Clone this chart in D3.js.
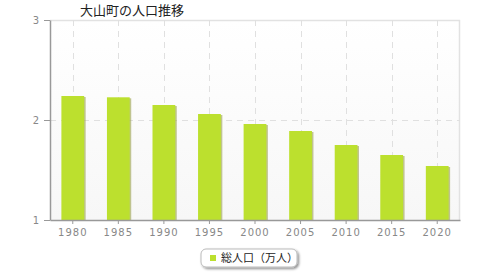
<!DOCTYPE html>
<html>
<head>
<meta charset="utf-8">
<script src="https://cdn.jsdelivr.net/npm/d3@7"></script>
<style>
  body { margin: 0; background: #fff; }
  svg { display: block; font-family: 'Noto Sans CJK JP', 'DejaVu Sans', sans-serif; }
</style>
</head>
<body>
<div id="chart"></div>
<script>
'use strict'

// Data
const years = ['1980', '1985', '1990', '1995', '2000', '2005', '2010', '2015', '2020']
const population = [2.24, 2.227, 2.15, 2.06, 1.96, 1.89, 1.75, 1.65, 1.54]
const yTicks = [1, 2, 3]
const title = '大山町の人口推移'
const seriesName = '総人口（万人）'

function draw() {
  let dimensions = {
    width: 480,
    height: 280,
    margin: { top: 20, right: 20, bottom: 60, left: 50 },
  }
  dimensions.containerWidth = dimensions.width - dimensions.margin.left - dimensions.margin.right
  dimensions.containerHeight = dimensions.height - dimensions.margin.top - dimensions.margin.bottom

  const svg = d3.select('#chart')
    .append('svg')
    .attr('width', dimensions.width)
    .attr('height', dimensions.height)

  const defs = svg.append('defs')
  const bg = defs.append('linearGradient').attr('id', 'bg').attr('x1', 0).attr('x2', 0).attr('y1', 0).attr('y2', 1)
  bg.append('stop').attr('offset', '0%').attr('stop-color', '#ffffff')
  bg.append('stop').attr('offset', '100%').attr('stop-color', '#f7f7f7')

  const legendShadow = defs.append('filter').attr('id', 'lshadow').attr('x', '-20%').attr('y', '-40%').attr('width', '140%').attr('height', '180%')
  legendShadow.append('feDropShadow').attr('dx', 1.5).attr('dy', 1.5).attr('stdDeviation', 1).attr('flood-color', '#000').attr('flood-opacity', 0.45)

  // Title
  svg.append('text')
    .attr('x', 80)
    .attr('y', 15)
    .attr('font-size', 13)
    .attr('font-weight', 400)
    .attr('fill', '#222')
    .text(title)

  const container = svg.append('g')
    .attr('transform', `translate(${dimensions.margin.left}, ${dimensions.margin.top})`)

  // Scales
  const xScale = d3.scaleBand()
    .domain(years)
    .range([0, dimensions.containerWidth])
    .paddingInner(0.5)
    .paddingOuter(0.25)

  const yScale = d3.scaleLinear()
    .domain([1, 3])
    .range([dimensions.containerHeight, 0])

  // Plot background
  container.append('rect')
    .attr('width', dimensions.containerWidth)
    .attr('height', dimensions.containerHeight)
    .attr('fill', 'url(#bg)')

  // Border top and right
  container.append('path')
    .attr('d', `M0,0.5H${dimensions.containerWidth - 0.5}V${dimensions.containerHeight}`)
    .attr('fill', 'none')
    .attr('stroke', '#e2e2e2')
    .attr('stroke-width', 1.5)

  // Grid
  const centerX = (d) => xScale(d) + xScale.bandwidth() / 2
  container.append('g')
    .selectAll('line')
    .data(years)
    .join('line')
    .attr('x1', (d) => Math.round(centerX(d)) + 0.5)
    .attr('x2', (d) => Math.round(centerX(d)) + 0.5)
    .attr('y1', 0)
    .attr('y2', dimensions.containerHeight)
    .attr('stroke', '#e0e0e0')
    .attr('stroke-dasharray', '6,5')

  container.append('g')
    .selectAll('line')
    .data(yTicks.filter((d) => d > 1 && d < 3))
    .join('line')
    .attr('x1', 0)
    .attr('x2', dimensions.containerWidth)
    .attr('y1', (d) => yScale(d) + 0.5)
    .attr('y2', (d) => yScale(d) + 0.5)
    .attr('stroke', '#e0e0e0')
    .attr('stroke-dasharray', '6,5')

  // Bar shadows
  container.append('g')
    .selectAll('rect')
    .data(years)
    .join('rect')
    .attr('x', (d) => xScale(d) + 1.5)
    .attr('y', (d, i) => yScale(population[i]) + 1)
    .attr('width', xScale.bandwidth())
    .attr('height', (d, i) => dimensions.containerHeight - yScale(population[i]) - 1)
    .attr('fill', '#9aa04a')
    .attr('opacity', 0.6)

  // Bars
  container.append('g')
    .selectAll('rect')
    .data(years)
    .join('rect')
    .attr('x', (d) => xScale(d))
    .attr('y', (d, i) => yScale(population[i]))
    .attr('width', xScale.bandwidth())
    .attr('height', (d, i) => dimensions.containerHeight - yScale(population[i]))
    .attr('fill', '#bce02e')

  // Axes
  const xAxis = d3.axisBottom(xScale).tickSize(4).tickSizeOuter(0)
  const xAxisGroup = container.append('g')
    .attr('transform', `translate(0, ${dimensions.containerHeight})`)
    .call(xAxis)
  xAxisGroup.select('.domain').attr('stroke', '#999').attr('stroke-width', 1.5)
  xAxisGroup.selectAll('.tick line').attr('stroke', '#999')
  xAxisGroup.selectAll('.tick text')
    .attr('fill', '#888')
    .attr('font-size', 10)
    .attr('letter-spacing', 1)
    .attr('dy', '0.9em')
    .style('font-family', 'DejaVu Sans, sans-serif')

  const yAxis = d3.axisLeft(yScale)
    .tickValues(yTicks)
    .tickFormat(d3.format('d'))
    .tickSize(6)
    .tickSizeOuter(0)
  const yAxisGroup = container.append('g').call(yAxis)
  yAxisGroup.select('.domain').attr('stroke', '#999').attr('stroke-width', 1.5)
  yAxisGroup.selectAll('.tick line').attr('stroke', '#999')
  yAxisGroup.selectAll('.tick text')
    .attr('fill', '#888')
    .attr('font-size', 10)
    .attr('x', -11)
    .style('font-family', 'DejaVu Sans, sans-serif')

  // Legend
  const legend = svg.append('g').attr('transform', 'translate(201, 249)')
  legend.append('rect')
    .attr('width', 96)
    .attr('height', 18)
    .attr('rx', 5)
    .attr('fill', '#fff')
    .attr('stroke', '#bbb')
    .attr('filter', 'url(#lshadow)')
  legend.append('rect')
    .attr('x', 9)
    .attr('y', 6)
    .attr('width', 6)
    .attr('height', 6)
    .attr('fill', '#bce02e')
  legend.append('text')
    .attr('x', 20)
    .attr('y', 13)
    .attr('font-size', 11)
    .attr('fill', '#222')
    .text(seriesName)
}

draw()
</script>
</body>
</html>
